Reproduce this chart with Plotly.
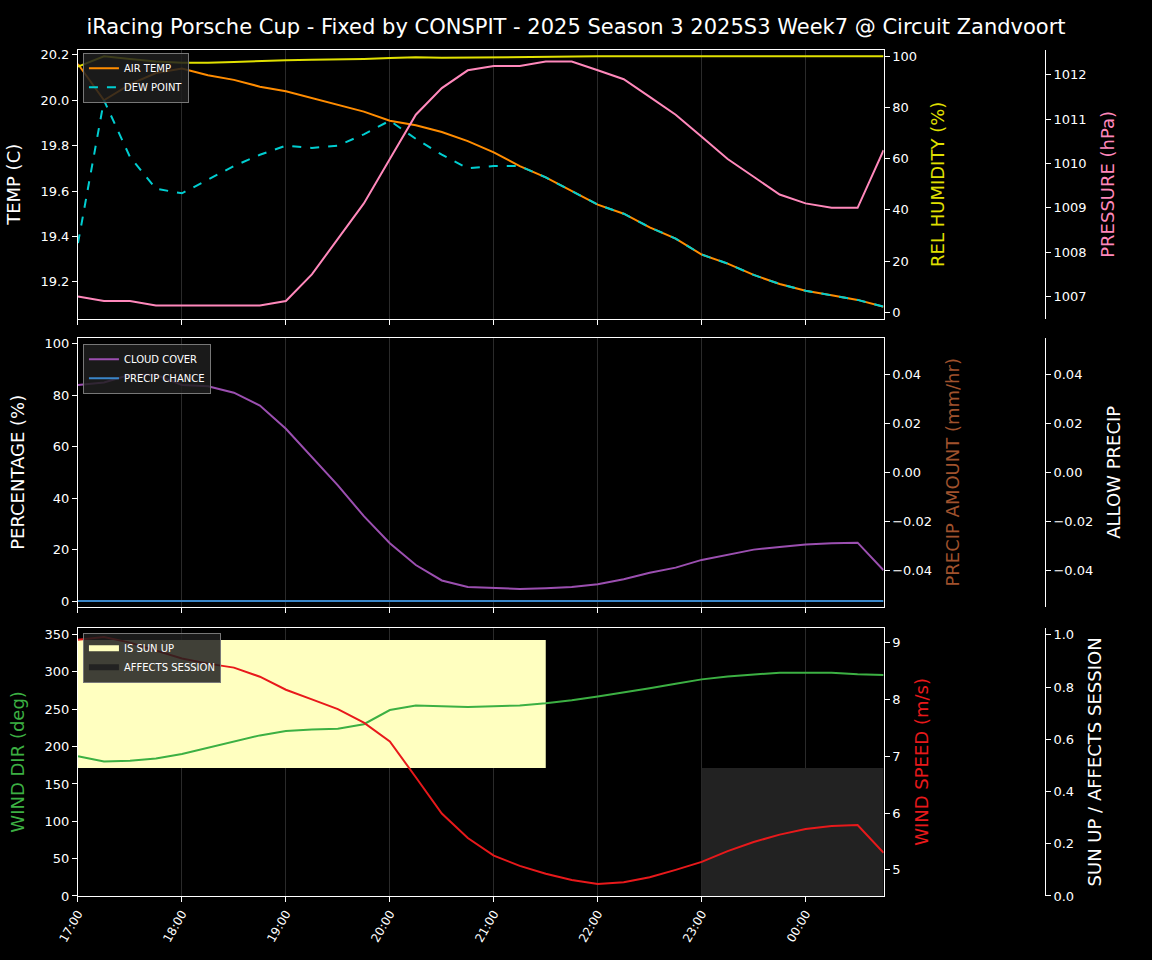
import plotly.graph_objects as go
import pandas as pd

times = pd.date_range("2025-07-01 17:00", periods=32, freq="15min")
air_temp = [20.16,20.0,20.07,20.12,20.14,20.11,20.09,20.06,20.04,20.01,19.98,19.95,19.91,19.89,19.86,19.82,
            19.77,19.71,19.66,19.60,19.54,19.50,19.44,19.39,19.32,19.28,19.23,19.19,19.16,19.14,19.12,19.09]
dew_point = [19.37,20.0,19.75,19.61,19.59,19.65,19.71,19.76,19.80,19.79,19.80,19.85,19.91,19.83,19.76,19.70,
             19.71,19.71,19.66,19.60,19.54,19.50,19.44,19.39,19.32,19.28,19.23,19.19,19.16,19.14,19.12,19.09]
humidity = [96,100,99,98,97.5,97.5,97.8,98.2,98.5,98.7,98.8,99,99.3,99.6,99.4,99.5,99.6,99.8,100,100,100,100,
            100,100,100,100,100,100,100,100,100,100]
pressure = [1007.0,1006.9,1006.9,1006.8,1006.8,1006.8,1006.8,1006.8,1006.9,1007.5,1008.3,1009.1,1010.1,1011.1,
            1011.7,1012.1,1012.2,1012.2,1012.3,1012.3,1012.1,1011.9,1011.5,1011.1,1010.6,1010.1,1009.7,1009.3,
            1009.1,1009.0,1009.0,1010.3]
cloud = [84,85,88,88,84,83.5,81,76,67,56,45,33,22.5,14,8,5.5,5,4.7,5,5.5,6.5,8.5,11,13,16,18,20,21,22,22.5,22.7,12]
precip_chance = [0]*32
wind_dir = [187,180,181,184,190,198,207,215,221,223,224,230,249,255,254,253,254,255,258,262,267,272,278,284,
            290,294,297,299,299,299,297,296]
wind_speed = [9.05,9.1,9.0,8.86,8.72,8.63,8.56,8.4,8.17,8.0,7.83,7.59,7.26,6.63,5.99,5.56,5.25,5.07,4.93,4.82,
              4.75,4.78,4.87,5.0,5.14,5.33,5.49,5.62,5.72,5.77,5.79,5.3]
sun_up = [1]*19 + [0]*13
affects = [0]*24 + [1]*8

F = "DejaVu Sans"
fig = go.Figure()
fig.add_trace(go.Scatter(x=times, y=air_temp, name="AIR TEMP", line=dict(color="#ff8c00", width=2), xaxis="x", yaxis="y", legend="legend"))
fig.add_trace(go.Scatter(x=times, y=dew_point, name="DEW POINT", line=dict(color="#00ced1", width=2, dash="dash"), xaxis="x", yaxis="y", legend="legend"))
fig.add_trace(go.Scatter(x=times, y=humidity, showlegend=False, line=dict(color="#e0e000", width=2), xaxis="x", yaxis="y2"))
fig.add_trace(go.Scatter(x=times, y=pressure, showlegend=False, line=dict(color="#ff88bb", width=2), xaxis="x", yaxis="y3"))

fig.add_trace(go.Scatter(x=times, y=cloud, name="CLOUD COVER", line=dict(color="#9b4fb0", width=2), xaxis="x2", yaxis="y4", legend="legend2"))
fig.add_trace(go.Scatter(x=times, y=precip_chance, name="PRECIP CHANCE", line=dict(color="#3a86c8", width=2), xaxis="x2", yaxis="y4", legend="legend2"))

sx = [t for t, s in zip(times, sun_up) if s]
fig.add_trace(go.Scatter(x=sx + sx[::-1], y=[0.98*s for s in sun_up if s] + [0.49]*len(sx), fill="toself", mode="none",
                         fillcolor="#ffffc0", name="IS SUN UP", xaxis="x3", yaxis="y7", legend="legend3"))
ax = [t for t, a in zip(times, affects) if a]
fig.add_trace(go.Scatter(x=ax + ax[::-1], y=[0.49*a for a in affects if a] + [0]*len(ax), fill="toself", mode="none",
                         fillcolor="#222222", name="AFFECTS SESSION", xaxis="x3", yaxis="y7", legend="legend3"))
fig.add_trace(go.Scatter(x=times, y=wind_dir, showlegend=False, line=dict(color="#3cb043", width=2), xaxis="x3", yaxis="y8"))
fig.add_trace(go.Scatter(x=times, y=wind_speed, showlegend=False, line=dict(color="#e8191b", width=2), xaxis="x3", yaxis="y9"))

dom = [0.0677, 0.767]
xr = [times[0], times[-1]]
xcommon = dict(domain=dom, range=xr, showgrid=True, gridcolor="#2a2a2a", gridwidth=1, dtick=3600000,
               tick0="2025-07-01 17:00", tickformat="%H:%M", showline=True, linecolor="white", mirror=True,
               ticks="outside", tickcolor="white", tickfont=dict(color="white", size=12), zeroline=False, automargin=False)
def yax(title, color, domain=None, overlay=None, side="left", pos=None, anchor=None, rng=None, dtick=None, fmt=None):
    d = dict(title=dict(text=title, font=dict(color=color, size=18)), showgrid=False, zeroline=False,
             ticks="outside", tickcolor="white", tickfont=dict(color="white", size=13), side=side,
             showline=True, linecolor="white", automargin=False)
    if domain: d["domain"] = domain
    if overlay: d["overlaying"] = overlay
    if pos is not None: d["position"] = pos; d["anchor"] = "free"
    if anchor: d["anchor"] = anchor
    if rng: d["range"] = rng
    if dtick: d["dtick"] = dtick
    if fmt: d["tickformat"] = fmt
    return d

d1, d2, d3 = [0.668, 0.948], [0.368, 0.648], [0.0667, 0.346]
lg = dict(xanchor="left", yanchor="top", bgcolor="rgba(30,30,30,0.85)", bordercolor="#777", borderwidth=1,
          font=dict(size=10), tracegroupgap=0, itemwidth=30)
fig.update_layout(
    width=1152, height=960, paper_bgcolor="black", plot_bgcolor="black",
    margin=dict(l=0, r=0, t=0, b=0), font=dict(family=F, color="white"),
    title=dict(text="iRacing Porsche Cup - Fixed by CONSPIT - 2025 Season 3 2025S3 Week7 @ Circuit Zandvoort",
               x=0.5, y=0.972, xanchor="center", yanchor="middle", font=dict(size=21, color="white")),
    xaxis=dict(xcommon, anchor="y", showticklabels=False),
    xaxis2=dict(xcommon, anchor="y4", showticklabels=False),
    xaxis3=dict(xcommon, anchor="y8", tickangle=-60),
    yaxis=yax("TEMP (C)", "white", d1, anchor="x", rng=[19.037, 20.222], dtick=0.2, fmt=".1f"),
    yaxis2=yax("REL HUMIDITY (%)", "#e0e000", overlay="y", side="right", anchor="x", rng=[-2.5, 102.5], dtick=20),
    yaxis3=yax("PRESSURE (hPa)", "#ff88bb", overlay="y", side="right", pos=0.907, rng=[1006.5, 1012.56], dtick=1),
    yaxis4=yax("PERCENTAGE (%)", "white", d2, anchor="x2", rng=[-2.2, 102.3], dtick=20),
    yaxis5=yax("PRECIP AMOUNT (mm/hr)", "#a0522d", overlay="y4", side="right", anchor="x2", rng=[-0.055, 0.055], dtick=0.02, fmt=".2f"),
    yaxis6=yax("ALLOW PRECIP", "white", overlay="y4", side="right", pos=0.907, rng=[-0.055, 0.055], dtick=0.02, fmt=".2f"),
    yaxis7=yax("SUN UP / AFFECTS SESSION", "white", d3, side="right", pos=0.907, rng=[0, 1.027], dtick=0.2, fmt=".1f"),
    yaxis8=yax("WIND DIR (deg)", "#3cb043", overlay="y7", side="left", anchor="x3", rng=[0, 359], dtick=50),
    yaxis9=yax("WIND SPEED (m/s)", "#e8191b", overlay="y7", side="right", anchor="x3", rng=[4.54, 9.26], dtick=1),
    legend=dict(lg, x=0.072, y=0.945),
    legend2=dict(lg, x=0.072, y=0.642),
    legend3=dict(lg, x=0.072, y=0.341),
)
fig.add_trace(go.Scatter(x=[times[0]], y=[0], xaxis="x2", yaxis="y5", showlegend=False, mode="none", hoverinfo="skip"))
fig.add_trace(go.Scatter(x=[times[0]], y=[0], xaxis="x2", yaxis="y6", showlegend=False, mode="none", hoverinfo="skip"))
fig.write_html("out.html", config={"displayModeBar": False},
               post_script="document.body.style.margin='0';document.body.style.background='black';")
